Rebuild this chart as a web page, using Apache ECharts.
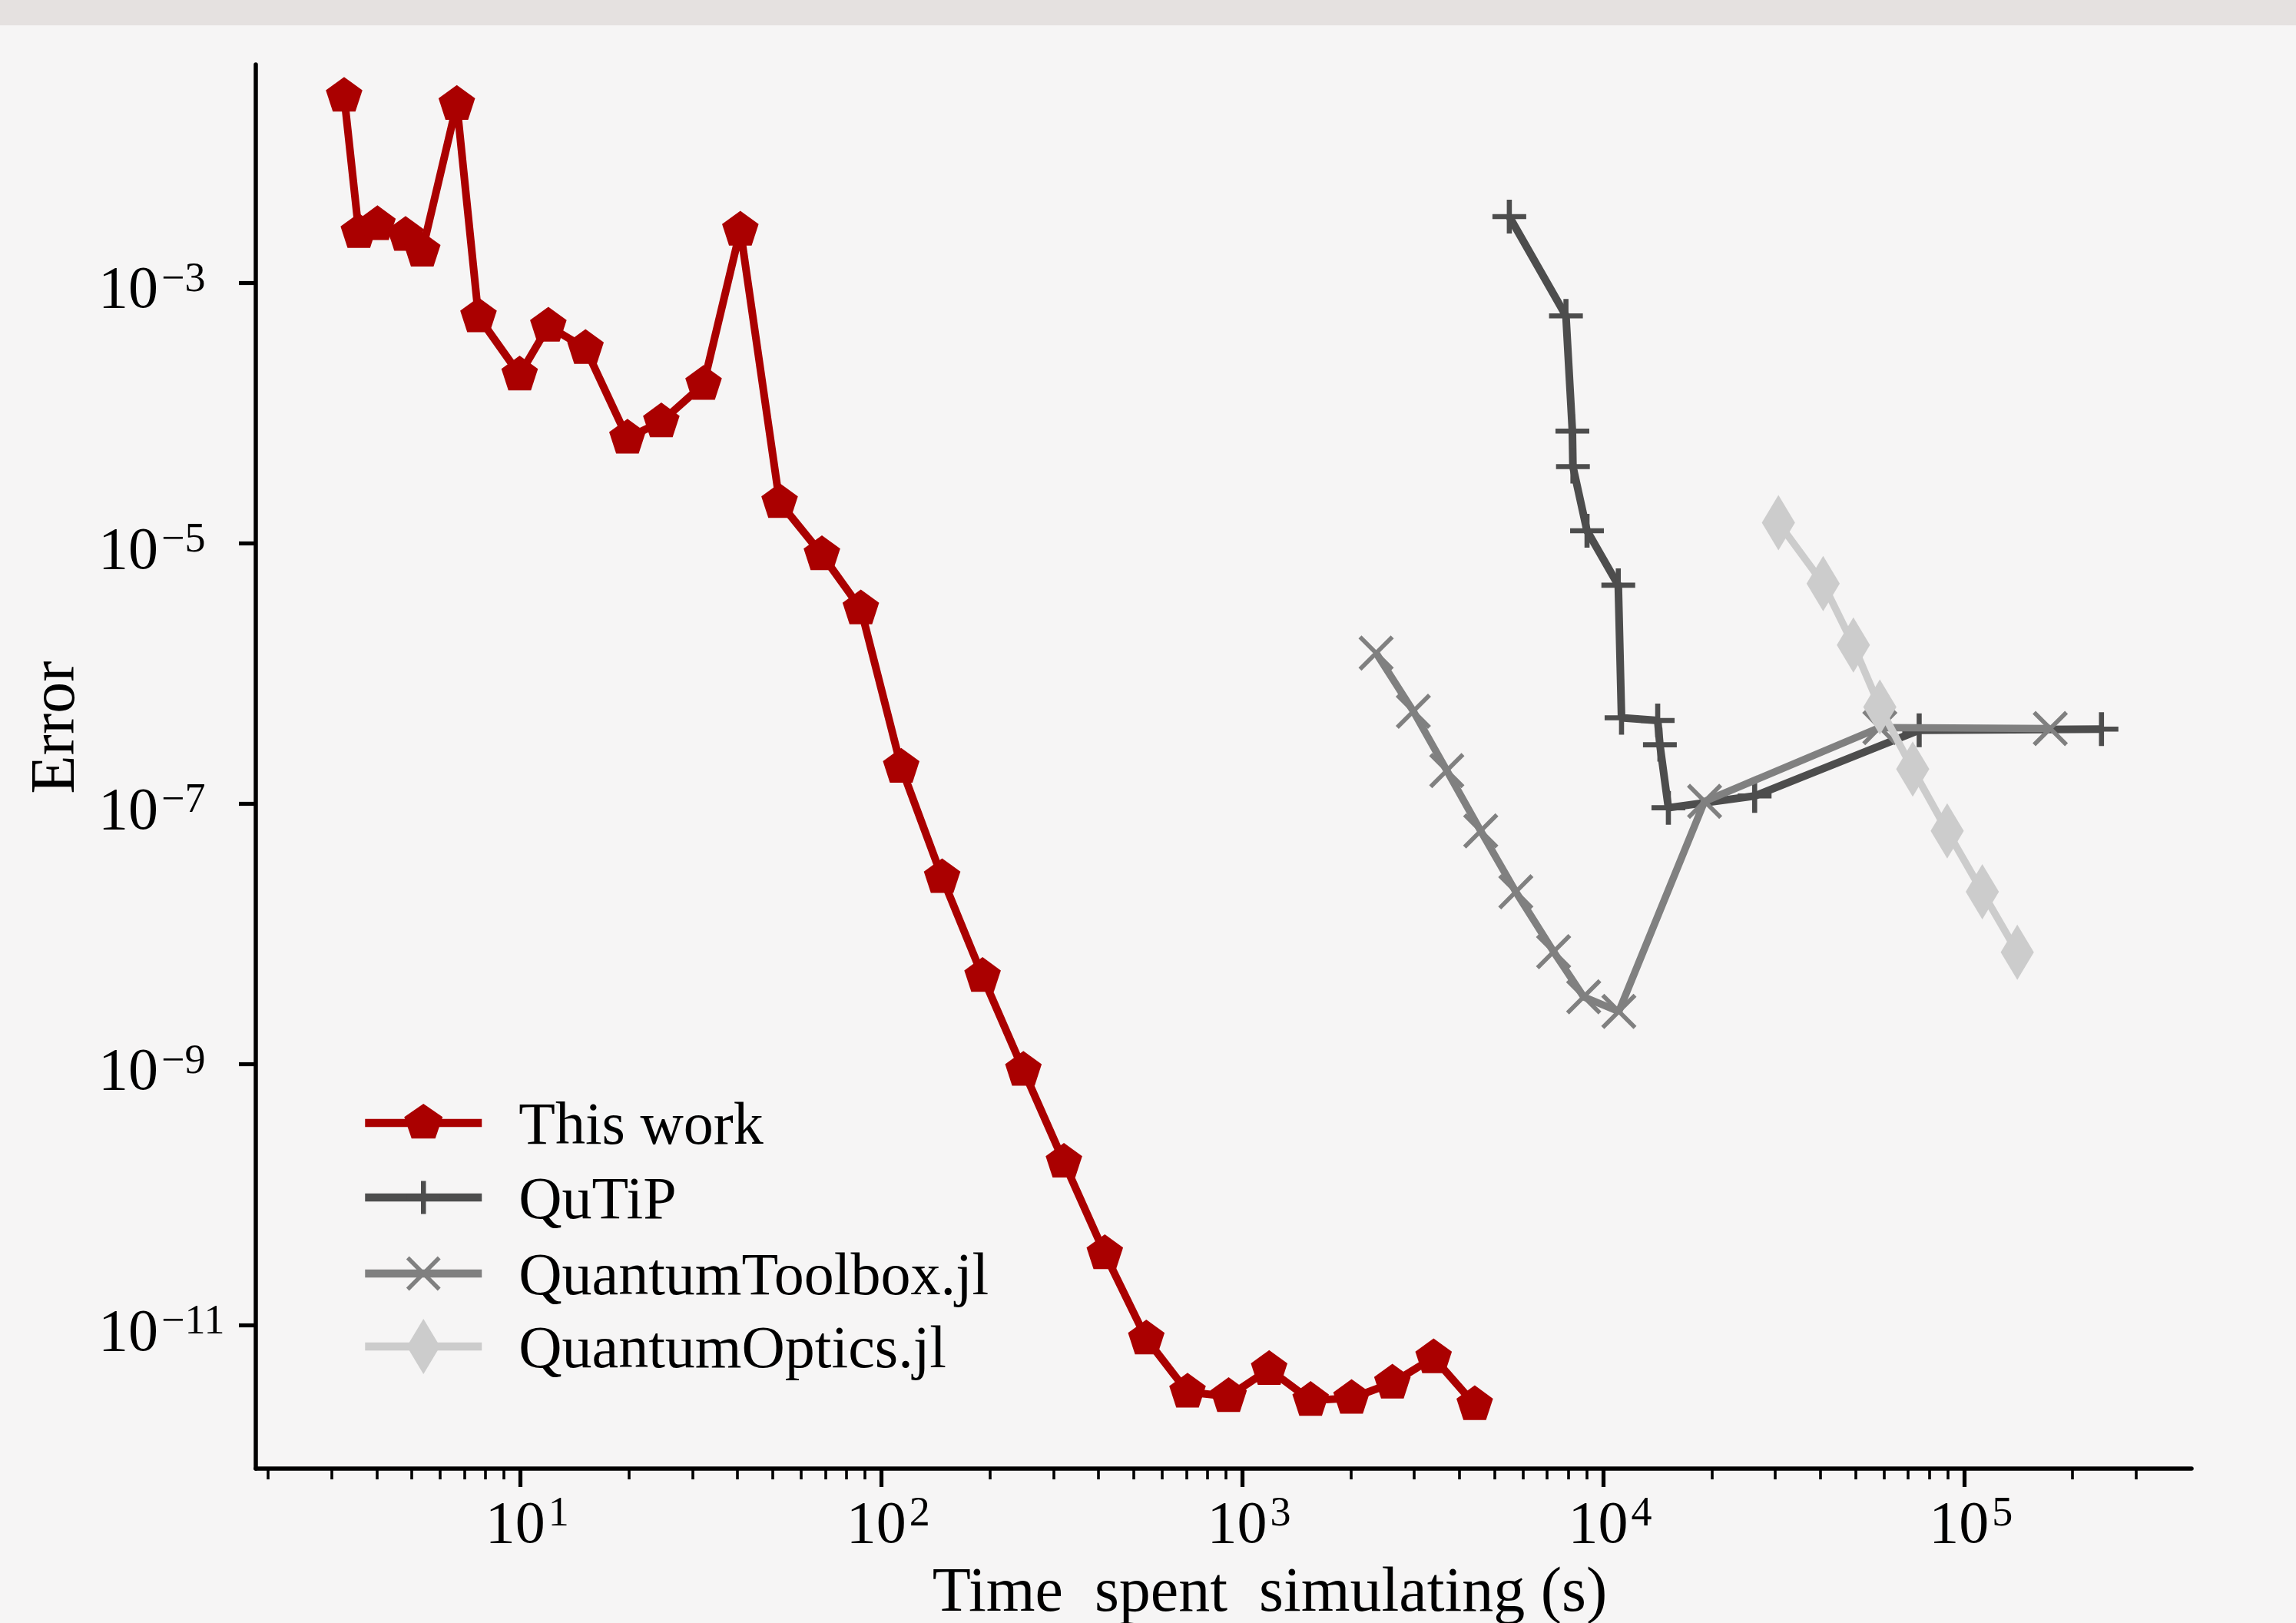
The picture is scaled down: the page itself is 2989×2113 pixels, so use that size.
<!DOCTYPE html>
<html>
<head>
<meta charset="utf-8">
<script src="https://cdn.jsdelivr.net/npm/echarts@6/dist/echarts.min.js"></script>
<style>
html,body{margin:0;padding:0;background:#f6f5f5;}
#chart{width:2989px;height:2113px;}
</style>
</head>
<body>
<div id="chart"></div>
<script>
// ---------------- data ----------------
const seriesNames = ['This work', 'QuTiP', 'QuantumToolbox.jl', 'QuantumOptics.jl'];

const thisWorkX = [3.25, 3.57, 4.02, 4.81, 5.35, 6.67, 7.66, 9.96, 11.96, 15.16, 19.81, 24.59, 32.2, 40.71, 52.3, 68.5,
  87.8, 113.6, 147.5, 190.9, 247.7, 320.8, 416.4, 542.6, 705.8, 917.4, 1188, 1548, 2010, 2608, 3392, 4410];
const thisWorkY = [2.70e-2, 2.43e-3, 2.79e-3, 2.31e-3, 1.75e-3, 2.34e-2, 5.48e-4, 1.96e-4, 4.64e-4, 3.13e-4, 6.41e-5,
  8.55e-5, 1.66e-4, 2.53e-3, 2.06e-5, 8.18e-6, 3.14e-6, 1.91e-7, 2.72e-8, 4.74e-9, 9.03e-10, 1.78e-10, 3.53e-11,
  7.84e-12, 3.06e-12, 2.83e-12, 4.57e-12, 2.64e-12, 2.74e-12, 3.59e-12, 5.62e-12, 2.45e-12];

const qutipX = [5499, 7892, 8222, 8251, 9027, 11020, 11250, 14170, 14370, 15170, 26300, 75130, 240400];
const qutipY = [3.21e-3, 5.56e-4, 7.25e-5, 3.87e-5, 1.245e-5, 4.76e-6, 4.57e-7, 4.36e-7, 2.84e-7, 9.32e-8, 1.149e-7,
  3.67e-7, 3.745e-7];

const toolboxX = [2351, 2981, 3690, 4582, 5732, 7294, 8838, 11060, 19110, 58460, 173400];
const toolboxY = [1.434e-6, 5.13e-7, 1.80e-7, 6.19e-8, 2.11e-8, 7.33e-9, 3.30e-9, 2.55e-9, 1.044e-7, 3.85e-7, 3.78e-7];

const opticsX = [30610, 40720, 49380, 58460, 72100, 89850, 112400, 140500];
const opticsY = [1.436e-5, 4.90e-6, 1.654e-6, 5.53e-7, 1.849e-7, 6.19e-8, 2.11e-8, 7.26e-9];

// tick values
const xMajorTicks = [10, 100, 1000, 10000, 100000];
const xMinorTicks = [2, 3, 4, 5, 6, 7, 8, 9,
  20, 30, 40, 50, 60, 70, 80, 90,
  200, 300, 400, 500, 600, 700, 800, 900,
  2000, 3000, 4000, 5000, 6000, 7000, 8000, 9000,
  20000, 30000, 40000, 50000, 60000, 70000, 80000, 90000,
  200000, 300000];
const yMajorTicks = [1e-11, 1e-9, 1e-7, 1e-5, 1e-3];

const xRange = [1.85, 4.27e5];
const yRange = [7.9e-13, 0.0472];

// ---------------- styles ----------------
const FONT = 'Liberation Serif';
const colRed = '#aa0000', colQutip = '#4d4d4d', colToolbox = '#808080', colOptics = '#cccccc';

const symPentagon = 'path://M0,-100L95.11,-30.9L58.78,80.9L-58.78,80.9L-95.11,-30.9Z M0,100L0,100';
const symPlus = 'path://M42.5,0L57.5,0L57.5,42.5L100,42.5L100,57.5L57.5,57.5L57.5,100L42.5,100L42.5,57.5L0,57.5L0,42.5L42.5,42.5Z';
const symCross = 'path://M0,8.6L8.6,0L50,41.4L91.4,0L100,8.6L58.6,50L100,91.4L91.4,100L50,58.6L8.6,100L0,91.4L41.4,50Z';
const symDiamond = 'path://M50,0L80,50L50,100L20,50Z M0,50L0,50 M100,50L100,50';

function pairs(xs, ys) { return xs.map((x, i) => [x, ys[i]]); }
function expText(v) {
  const e = Math.round(Math.log10(v));
  return '{b|10}{s|' + (e < 0 ? '\u2212' : '') + Math.abs(e) + '}';
}

const chart = echarts.init(document.getElementById('chart'), null, {renderer: 'svg', width: 2989, height: 2113});

function legendFor(name, top, itemHeight) {
  return {
    data: [name], orient: 'vertical', left: 470, top: top, padding: 0,
    itemWidth: 152, itemHeight: itemHeight, selectedMode: false,
    lineStyle: {width: 10.5},
    textStyle: {fontFamily: FONT, fontSize: 78, color: '#000', padding: [0, 0, 0, 43]}
  };
}

const option = {
  backgroundColor: '#f6f5f5',
  animation: false,
  graphic: [{type: 'rect', left: 0, top: 0, z: -10, shape: {width: 2989, height: 33}, style: {fill: '#e5e1e0'}}],
  grid: {left: 333, right: 136, top: 84, bottom: 201, containLabel: false, outerBoundsMode: 'none'},
  xAxis: [{
    type: 'log', min: xRange[0], max: xRange[1], position: 'bottom',
    name: 'Time  spent  simulating (s)', nameLocation: 'middle', nameGap: 116,
    nameTextStyle: {fontFamily: FONT, fontSize: 82, color: '#000', padding: [0, 0, 0, 120]},
    axisLine: {show: true, lineStyle: {color: '#000', width: 5.5}},
    axisTick: {show: true, customValues: xMajorTicks, length: 24, lineStyle: {color: '#000', width: 5.2}},
    axisLabel: {
      show: true, customValues: xMajorTicks, margin: 24, formatter: expText,
      rich: {
        b: {fontFamily: FONT, fontSize: 78, color: '#000', lineHeight: 78, padding: [12, 0, 0, 18]},
        s: {fontFamily: FONT, fontSize: 54, color: '#000', lineHeight: 54, verticalAlign: 'top', padding: [5, 0, 0, 4]}
      }
    },
    minorTick: {show: false}, splitLine: {show: false}
  }, {
    type: 'log', min: xRange[0], max: xRange[1], position: 'bottom', offset: 0,
    axisLine: {show: false},
    axisTick: {show: true, customValues: xMinorTicks, length: 14, lineStyle: {color: '#000', width: 3.6}},
    axisLabel: {show: false}, splitLine: {show: false}
  }],
  yAxis: [{
    type: 'log', min: yRange[0], max: yRange[1], position: 'left',
    name: 'Error', nameLocation: 'middle', nameGap: 224,
    nameTextStyle: {fontFamily: FONT, fontSize: 82, color: '#000', padding: [0, 0, 0, 102]},
    axisLine: {show: true, lineStyle: {color: '#000', width: 5.5}},
    axisTick: {show: true, customValues: yMajorTicks, length: 22, lineStyle: {color: '#000', width: 5.2}},
    axisLabel: {
      show: true, customValues: yMajorTicks, margin: 205, align: 'left', formatter: expText,
      rich: {
        b: {fontFamily: FONT, fontSize: 78, color: '#000', lineHeight: 78, padding: [12, 0, 0, 0]},
        s: {fontFamily: FONT, fontSize: 54, color: '#000', lineHeight: 54, verticalAlign: 'top', padding: [5, 0, 0, 4]}
      }
    },
    minorTick: {show: false}, splitLine: {show: false}
  }],
  legend: [
    legendFor(seriesNames[0], 1423, 62.5),
    legendFor(seriesNames[1], 1520, 54),
    legendFor(seriesNames[2], 1619, 56),
    legendFor(seriesNames[3], 1714, 90)
  ],
  series: [
    {
      name: seriesNames[0], type: 'line', data: pairs(thisWorkX, thisWorkY),
      symbol: symPentagon, symbolSize: [47.6, 50], showSymbol: true, symbolKeepAspect: false,
      lineStyle: {color: colRed, width: 10}, itemStyle: {color: colRed, borderWidth: 0},
      emphasis: {disabled: true}, silent: true, z: 2
    },
    {
      name: seriesNames[1], type: 'line', data: pairs(qutipX, qutipY),
      symbol: symPlus, symbolSize: 44, showSymbol: true,
      lineStyle: {color: colQutip, width: 10}, itemStyle: {color: colQutip, borderWidth: 0},
      emphasis: {disabled: true}, silent: true, z: 3
    },
    {
      name: seriesNames[2], type: 'line', data: pairs(toolboxX, toolboxY),
      symbol: symCross, symbolSize: 46, showSymbol: true,
      lineStyle: {color: colToolbox, width: 9.5}, itemStyle: {color: colToolbox, borderWidth: 0},
      emphasis: {disabled: true}, silent: true, z: 4
    },
    {
      name: seriesNames[3], type: 'line', data: pairs(opticsX, opticsY),
      symbol: symDiamond, symbolSize: 72, showSymbol: true,
      lineStyle: {color: colOptics, width: 9.5}, itemStyle: {color: colOptics, borderWidth: 0},
      emphasis: {disabled: true}, silent: true, z: 5
    }
  ]
};
chart.setOption(option);
</script>
</body>
</html>
